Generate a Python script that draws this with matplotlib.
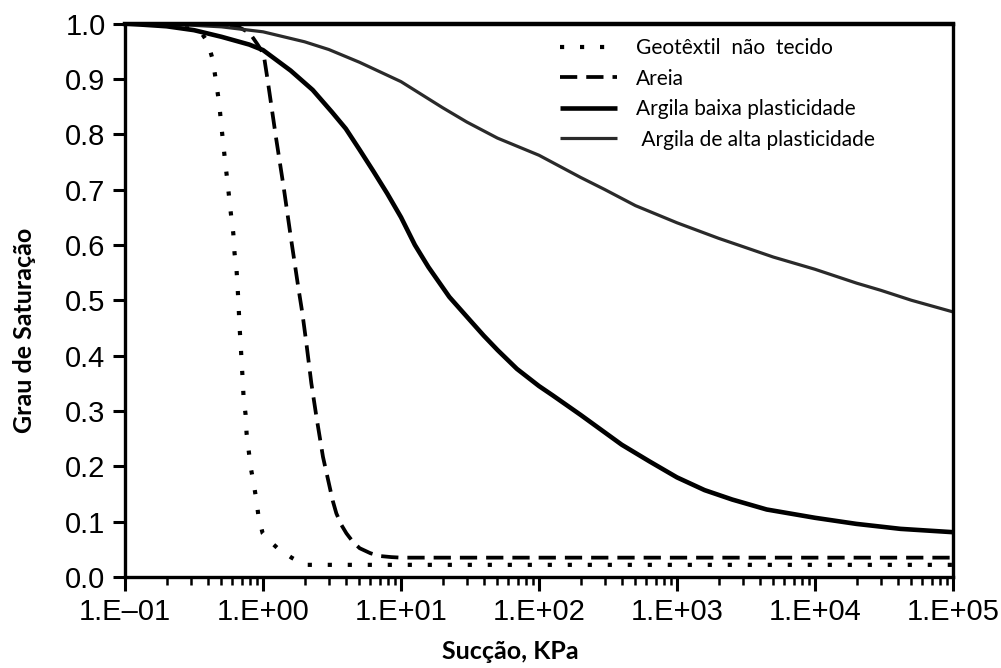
import matplotlib
matplotlib.use("Agg")
import matplotlib.pyplot as plt

# sucção (kPa) x grau de saturação
geo_x = [0.1, 0.2, 0.3, 0.36, 0.396, 0.431, 0.453, 0.481, 0.501, 0.518, 0.535, 0.554,
         0.573, 0.592, 0.609, 0.622, 0.643, 0.655, 0.666, 0.676, 0.688, 0.700, 0.711,
         0.723, 0.748, 0.760, 0.787, 0.813, 0.855, 0.899, 0.929, 0.994, 1.13, 1.276,
         1.61, 2.0, 1e5]
geo_y = [1.0, 0.998, 0.993, 0.982, 0.967, 0.936, 0.901, 0.856, 0.811, 0.777, 0.744, 0.712,
         0.677, 0.645, 0.621, 0.585, 0.555, 0.522, 0.488, 0.452, 0.423, 0.388, 0.360,
         0.325, 0.293, 0.260, 0.229, 0.199, 0.170, 0.136, 0.108, 0.079, 0.064, 0.052,
         0.035, 0.022, 0.022]

areia_x = [0.1, 0.5, 0.65, 0.80, 0.914, 1.01, 1.08, 1.24, 1.41, 1.59, 1.80, 1.93, 2.06,
           2.24, 2.44, 2.72, 3.04, 3.2, 3.40, 3.7, 4.02, 4.5, 5.02, 6.0, 7.0, 8.5, 10.0, 1e5]
areia_y = [1.0, 0.999, 0.995, 0.983, 0.962, 0.945, 0.898, 0.795, 0.705, 0.614, 0.524,
           0.476, 0.423, 0.350, 0.289, 0.217, 0.163, 0.138, 0.115, 0.094, 0.079, 0.063,
           0.052, 0.043, 0.038, 0.036, 0.035, 0.035]

baixa_x = [0.1, 0.2, 0.316, 0.5, 0.794, 1.0, 1.585, 2.29, 3.16, 3.98, 5.01, 6.31, 7.94,
           10.0, 12.6, 15.8, 22.4, 31.6, 39.8, 50.1, 69.2, 100, 126, 200, 275, 398,
           631, 1000, 1585, 2512, 4467, 10000, 19950, 41690, 1e5]
baixa_y = [1.0, 0.995, 0.988, 0.976, 0.962, 0.952, 0.915, 0.880, 0.840, 0.810, 0.772,
           0.733, 0.693, 0.650, 0.600, 0.560, 0.506, 0.464, 0.436, 0.410, 0.376, 0.345,
           0.328, 0.293, 0.268, 0.239, 0.209, 0.180, 0.157, 0.140, 0.122, 0.107, 0.096,
           0.087, 0.081]

alta_x = [0.1, 0.2, 0.3, 0.5, 1.0, 2.0, 3.0, 5.0, 10, 20, 30, 50, 100, 200, 300, 500,
          1000, 2000, 3000, 5000, 10000, 20000, 30000, 50000, 1e5]
alta_y = [1.0, 0.999, 0.997, 0.994, 0.985, 0.967, 0.953, 0.930, 0.895, 0.848, 0.822,
          0.793, 0.762, 0.722, 0.700, 0.671, 0.640, 0.612, 0.597, 0.578, 0.556, 0.531,
          0.518, 0.500, 0.479]

xticks = [1e-1, 1e0, 1e1, 1e2, 1e3, 1e4, 1e5]
xtick_labels = ["1.E\u201301", "1.E+00", "1.E+01", "1.E+02", "1.E+03", "1.E+04", "1.E+05"]
yticks = [0.0, 0.1, 0.2, 0.3, 0.4, 0.5, 0.6, 0.7, 0.8, 0.9, 1.0]
ytick_labels = ["0.0", "0.1", "0.2", "0.3", "0.4", "0.5", "0.6", "0.7", "0.8", "0.9", "1.0"]

fig = plt.figure(figsize=(10.01, 6.68), dpi=100)
ax = fig.add_axes([0.1249, 0.1362, 0.8271, 0.8286])

ax.plot(geo_x, geo_y, color="black", lw=3.0, linestyle=(0, (1, 3.8)),
        label="Geotêxtil  não  tecido")
ax.plot(areia_x, areia_y, color="black", lw=2.7, linestyle=(0, (4.6, 2.4)),
        label="Areia")
ax.plot(baixa_x, baixa_y, color="black", lw=3.3, solid_capstyle="butt",
        label="Argila baixa plasticidade")
ax.plot(alta_x, alta_y, color="#2a2a2a", lw=2.3, solid_capstyle="butt",
        label=" Argila de alta plasticidade")

ax.set_xscale("log")
ax.set_xlim(1e-1, 1e5)
ax.set_ylim(0, 1.0)

ax.set_xticks(xticks)
ax.set_xticklabels(xtick_labels, fontfamily="Liberation Sans", fontsize=21)
ax.set_yticks(yticks)
ax.set_yticklabels(ytick_labels, fontfamily="Liberation Sans", fontsize=21)
ax.tick_params(axis="both", which="major", direction="out", length=9, width=2.2,
               color="black", pad=5)
ax.tick_params(axis="x", which="minor", direction="out", length=6, width=1.8)
ax.tick_params(axis="x", which="major", length=10)

for side in ["left", "bottom", "right"]:
    ax.spines[side].set_linewidth(2.4)
ax.spines["top"].set_linewidth(3.2)

ax.set_xlabel("Sucção, KPa", fontfamily="Lato", fontweight="bold", fontsize=18)
ax.xaxis.set_label_coords(0.465, -0.114)
ax.set_ylabel("Grau de Saturação", fontfamily="Lato", fontweight="bold", fontsize=18)
ax.yaxis.set_label_coords(-0.108, 0.445)

leg = ax.legend(loc="upper left", bbox_to_anchor=(0.525, 0.974), frameon=False,
                borderaxespad=0, borderpad=0, handlelength=2.74, handletextpad=0.91,
                labelspacing=0.51, prop={"family": "Lato", "size": 15})

fig.savefig("out.png", dpi=100)
